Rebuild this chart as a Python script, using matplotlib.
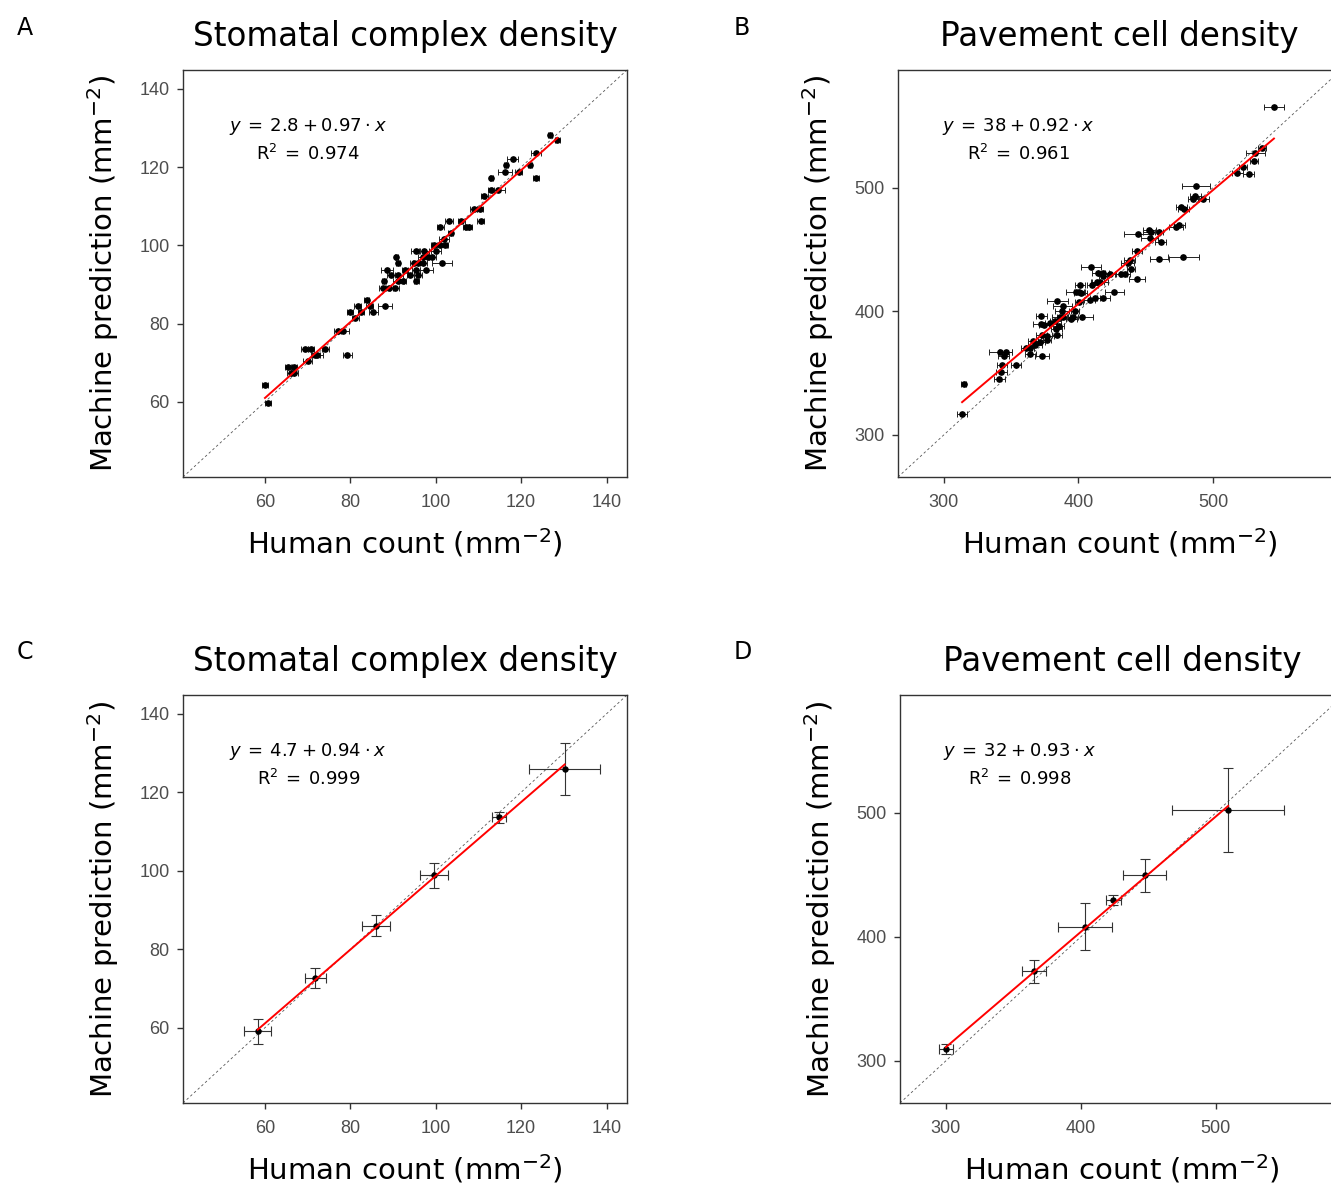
import numpy as np
import matplotlib
matplotlib.use('Agg')
import matplotlib.pyplot as plt

plt.rcParams['font.family'] = ['DejaVu Sans']
plt.rcParams['mathtext.fontset'] = 'dejavusans'

# A: stomatal complex density, per image
a_human = [60.0, 60.6, 65.5, 66.9, 66.0, 66.9, 69.3, 70.7, 70.0, 71.8, 72.3, 74.1, 77.0, 78.3, 79.3,
           79.9, 81.2, 81.7, 82.5, 83.8, 84.5, 85.4, 88.1, 87.6, 87.8, 88.5, 89.6, 89.0, 90.4, 90.8,
           91.2, 91.2, 91.2, 92.3, 92.8, 94.0, 94.9, 95.4, 95.4, 95.9, 95.3, 95.9, 96.9, 97.1, 97.3,
           97.8, 98.2, 99.2, 99.6, 100.0, 101.4, 100.9, 102.1, 102.0, 103.5, 101.1, 103.1, 106.0, 107.1, 107.7,
           108.9, 110.4, 110.5, 111.4, 112.9, 113.0, 114.7, 116.2, 116.5, 118.0, 119.4, 122.0, 123.4, 123.5, 126.8,
           128.5]
a_machine = [64.3, 59.6, 68.9, 68.9, 67.3, 67.3, 73.6, 73.6, 70.5, 72.0, 72.0, 73.6, 78.2, 78.2, 72.0,
             83.0, 81.4, 84.6, 83.0, 86.1, 84.6, 83.0, 84.6, 89.2, 90.8, 93.8, 92.3, 89.2, 89.2, 97.0,
             95.4, 92.3, 90.8, 90.8, 93.8, 92.3, 95.4, 93.8, 90.8, 92.3, 98.5, 95.4, 97.0, 95.4, 98.5,
             93.8, 97.0, 97.0, 100.2, 98.5, 95.4, 100.2, 100.2, 101.7, 103.2, 104.8, 106.3, 106.3, 104.8, 104.8,
             109.4, 109.4, 106.3, 112.5, 114.2, 117.3, 114.2, 118.8, 120.4, 122.0, 118.8, 120.4, 123.6, 117.3, 128.3,
             126.8]
a_xerr = [0.8, 0.7, 0.8, 0.7, 0.8, 0.8, 0.8, 0.7, 1.0, 1.0, 1.2, 0.8, 0.8, 1.3, 1.0,
          0.7, 0.8, 0.8, 0.8, 0.6, 0.9, 1.0, 1.6, 0.8, 0.5, 1.4, 0.9, 0.9, 1.0, 0.4,
          0.5, 1.1, 1.3, 0.8, 0.8, 0.8, 0.9, 1.0, 0.6, 0.9, 1.0, 1.2, 1.0, 0.9, 1.2,
          1.6, 1.0, 0.8, 0.8, 1.2, 2.3, 1.8, 0.8, 1.2, 0.6, 0.8, 0.9, 0.9, 0.8, 0.8,
          0.8, 0.7, 0.8, 0.8, 0.7, 0.4, 1.6, 1.6, 0.5, 1.3, 0.9, 0.5, 1.2, 0.7, 0.4,
          0.6]

# B: pavement cell density, per image
b_human = [545.2, 536.3, 531.4, 530.4, 526.4, 522.2, 518.0, 487.4, 486.9, 485.2, 492.6, 476.5, 478.3, 474.8,
           472.6, 478.0, 460.2, 461.2, 459.5, 452.6, 454.1, 444.0, 452.8, 443.5, 438.0, 439.0, 436.5, 443.5,
           431.9, 434.6, 409.4, 414.8, 418.5, 423.5, 418.0, 414.1, 416.0, 410.4, 401.2, 398.0, 400.5, 401.7,
           426.7, 408.4, 412.3, 418.5, 400.2, 397.5, 384.2, 388.4, 387.7, 386.2, 388.4, 395.6, 402.5, 394.6,
           372.3, 372.1, 374.6, 379.0, 382.7, 385.2, 383.7, 384.0, 377.0, 372.8, 376.5, 366.2, 367.9, 371.1,
           364.2, 361.2, 364.2, 372.8, 342.0, 345.9, 344.4, 353.6, 343.2, 342.7, 341.2, 314.8, 313.6]
b_machine = [565.3, 532.3, 528.2, 521.5, 510.8, 516.9, 512.1, 501.3, 493.3, 490.6, 490.6, 483.9, 482.5, 469.9,
             468.3, 443.5, 441.9, 456.2, 463.7, 465.6, 463.7, 462.1, 459.4, 448.4, 441.7, 434.4, 439.0, 426.1,
             429.8, 429.8, 436.0, 430.9, 430.9, 429.8, 428.2, 423.9, 423.4, 421.5, 421.5, 415.6, 415.6, 414.8,
             415.9, 409.4, 410.5, 410.5, 407.8, 400.5, 408.1, 404.6, 400.5, 395.7, 395.7, 395.7, 395.4, 393.5,
             396.5, 389.8, 389.2, 390.3, 391.9, 388.4, 385.8, 380.9, 379.6, 380.9, 376.9, 376.3, 373.1, 375.0,
             370.2, 370.2, 365.1, 364.2, 366.9, 366.9, 364.2, 356.2, 356.2, 350.8, 344.9, 340.9, 317.2]
b_xerr = [7.4, 3.0, 7.0, 3.0, 4.0, 3.0, 4.0, 10.6, 4.0, 4.0, 4.0, 4.0, 4.0, 4.0,
          5.0, 11.5, 6.8, 4.0, 3.0, 5.0, 6.0, 10.0, 6.0, 4.0, 4.0, 3.0, 5.0, 6.0,
          4.0, 4.0, 7.7, 5.0, 4.0, 4.0, 3.0, 5.0, 6.0, 4.0, 4.0, 7.0, 4.0, 5.0,
          7.0, 4.0, 4.0, 5.0, 3.0, 3.0, 7.8, 7.0, 5.0, 6.0, 4.0, 4.0, 8.4, 4.0,
          4.0, 6.0, 4.0, 4.0, 4.0, 4.0, 4.0, 4.0, 5.0, 4.0, 3.0, 4.0, 5.0, 4.0,
          3.0, 4.0, 4.0, 5.0, 8.6, 5.0, 4.0, 4.0, 4.0, 4.0, 4.0, 2.0, 4.0]

# C: stomatal complex density, averaged
c_human = [58.3, 71.8, 86.0, 99.6, 114.8, 130.2]
c_machine = [59.1, 72.6, 86.0, 98.8, 113.6, 125.9]
c_xerr = [3.2, 2.4, 3.2, 3.3, 1.7, 8.3]
c_yerr = [3.2, 2.5, 2.7, 3.2, 1.5, 6.6]

# D: pavement cell density, averaged
d_human = [300.0, 365.2, 403.3, 424.2, 447.2, 509.2]
d_machine = [309.9, 372.2, 408.2, 429.4, 449.5, 502.4]
d_xerr = [5.0, 9.0, 20.0, 5.5, 15.6, 41.4]
d_yerr = [4.0, 9.4, 19.0, 4.0, 13.3, 33.7]

intercepts = [2.8, 38, 4.7, 32]
slopes = [0.97, 0.92, 0.94, 0.93]
r2 = ['0.974', '0.961', '0.999', '0.998']
titles = ['Stomatal complex density', 'Pavement cell density',
          'Stomatal complex density', 'Pavement cell density']
letters = ['A', 'B', 'C', 'D']

W, H = 1331, 1186
fig = plt.figure(figsize=(W / 100, H / 100), dpi=100)

# axes boxes in pixels: left, top, right, bottom
boxes = [(183, 70, 627, 477), (898, 70, 1341, 477),
         (183, 695, 627, 1103), (900, 695, 1344, 1103)]
lims = [(40.8, 144.8), (266, 595), (40.8, 144.8), (266, 595)]
ticks = [[60, 80, 100, 120, 140], [300, 400, 500],
         [60, 80, 100, 120, 140], [300, 400, 500]]
letter_pos = [(25, 28), (742, 28), (25, 652), (743, 652)]
eq_x = [0.282, 0.271, 0.282, 0.27]

data = [(a_human, a_machine, a_xerr, None),
        (b_human, b_machine, b_xerr, None),
        (c_human, c_machine, c_xerr, c_yerr),
        (d_human, d_machine, d_xerr, d_yerr)]

for i in range(4):
    l, t, r, b = boxes[i]
    ax = fig.add_axes([l / W, 1 - b / H, (r - l) / W, (b - t) / H])
    x, y, xe, ye = data[i]
    x = np.array(x)
    y = np.array(y)

    lo, hi = lims[i]
    ax.plot([lo, hi], [lo, hi], ls=(0, (3, 3)), color='#555555', lw=0.6, zorder=1)

    if ye is None:
        ax.errorbar(x, y, xerr=xe, fmt='o', ms=3.8, color='black', ecolor='#222222',
                    elinewidth=0.7, capsize=2, capthick=0.7, zorder=3)
    else:
        ax.errorbar(x, y, xerr=xe, yerr=ye, fmt='o', ms=3.6, color='black', ecolor='#333333',
                    elinewidth=0.8, capsize=3.5, capthick=0.8, zorder=3)

    xs = np.array([x.min(), x.max()])
    ax.plot(xs, intercepts[i] + slopes[i] * xs, color='red', lw=1.4, zorder=4)

    ax.set_xlim(lo, hi)
    ax.set_ylim(lo, hi)
    ax.set_xticks(ticks[i])
    ax.set_yticks(ticks[i])
    for lab in ax.get_xticklabels() + ax.get_yticklabels():
        lab.set_fontfamily('Liberation Sans')
    for s in ax.spines.values():
        s.set_color('#333333')
        s.set_linewidth(1.0)
    ax.tick_params(direction='out', length=4.5, width=1, color='#333333',
                   labelsize=13, labelcolor='#4d4d4d')
    ax.tick_params(axis='x', pad=8)
    ax.tick_params(axis='y', pad=5)

    ax.set_xlabel('Human count (mm$^{-2}$)', fontsize=21, labelpad=11)
    ax.set_ylabel('Machine prediction (mm$^{-2}$)', fontsize=21, labelpad=13)
    ax.set_title(titles[i], fontsize=23.5, pad=17)

    eq = r'$y\:=\:%s\:+\:%s\:\cdot\:x$' % (intercepts[i], slopes[i])
    ax.text(eq_x[i], 0.862, eq, transform=ax.transAxes, ha='center', va='center', fontsize=13)
    ax.text(eq_x[i], 0.794, r'$\mathrm{R}^2\:=\:%s$' % r2[i], transform=ax.transAxes,
            ha='center', va='center', fontsize=13)

    lx, ly = letter_pos[i]
    fig.text(lx / W, 1 - ly / H, letters[i], fontsize=17, ha='center', va='center')

fig.savefig('out.png', dpi=100)
